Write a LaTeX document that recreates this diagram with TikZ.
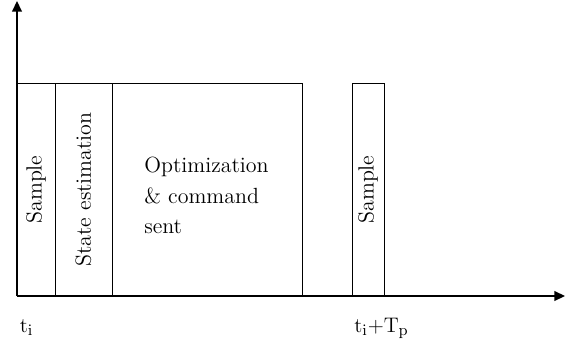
\documentclass[tikz,border=0pt]{standalone}
\usepackage{graphicx}
\usetikzlibrary{arrows.meta,positioning}

\tikzset{
  slot/.style={draw, line width=0.5pt, inner sep=0pt, outer sep=0pt,
    minimum height=4.26cm, font=\fontsize{12.5}{15}\selectfont},
  axis/.style={line width=0.9pt, -{Triangle[length=6pt,width=5.5pt]}},
  tick/.style={anchor=base, font=\fontsize{12.5}{15}\selectfont}
}

\begin{document}
\begin{tikzpicture}[x=0.02cm, y=0.02cm]
\useasboundingbox (-17,-47) rectangle (548,296);

% one sampling period
\node[slot, minimum width=0.76cm, anchor=south west] (sample1) at (0,0)
  {\rotatebox{90}{Sample}};
\node[slot, minimum width=1.14cm, right=0pt of sample1] (estim)
  {\rotatebox{90}{State estimation}};
\node[slot, minimum width=3.8cm, right=0pt of estim] (optim) {};
\node[anchor=north west, inner sep=0pt, align=left,
  font=\fontsize{12.5}{15}\selectfont] (optimtxt) at (127,139)
  {Optimization\\[2.3pt] \& command\\[2.3pt] sent};

% next sample
\node[slot, minimum width=0.64cm, anchor=south west] (sample2) at (335,0)
  {\rotatebox{90}{Sample}};

% axes
\coordinate (o) at (0,0);
\coordinate (ytip) at (0,295);
\coordinate (xtip) at (548,0);
\draw[axis] (o) -- (ytip);
\draw[axis] (o) -- (xtip);

% time marks
\node[tick] (ti) at (9.5,-36.5) {$\mathrm{t_i}$};
\node[tick] (tp) at (364.5,-36.5) {$\mathrm{t_i{+}T_p}$};
\end{tikzpicture}
\end{document}
